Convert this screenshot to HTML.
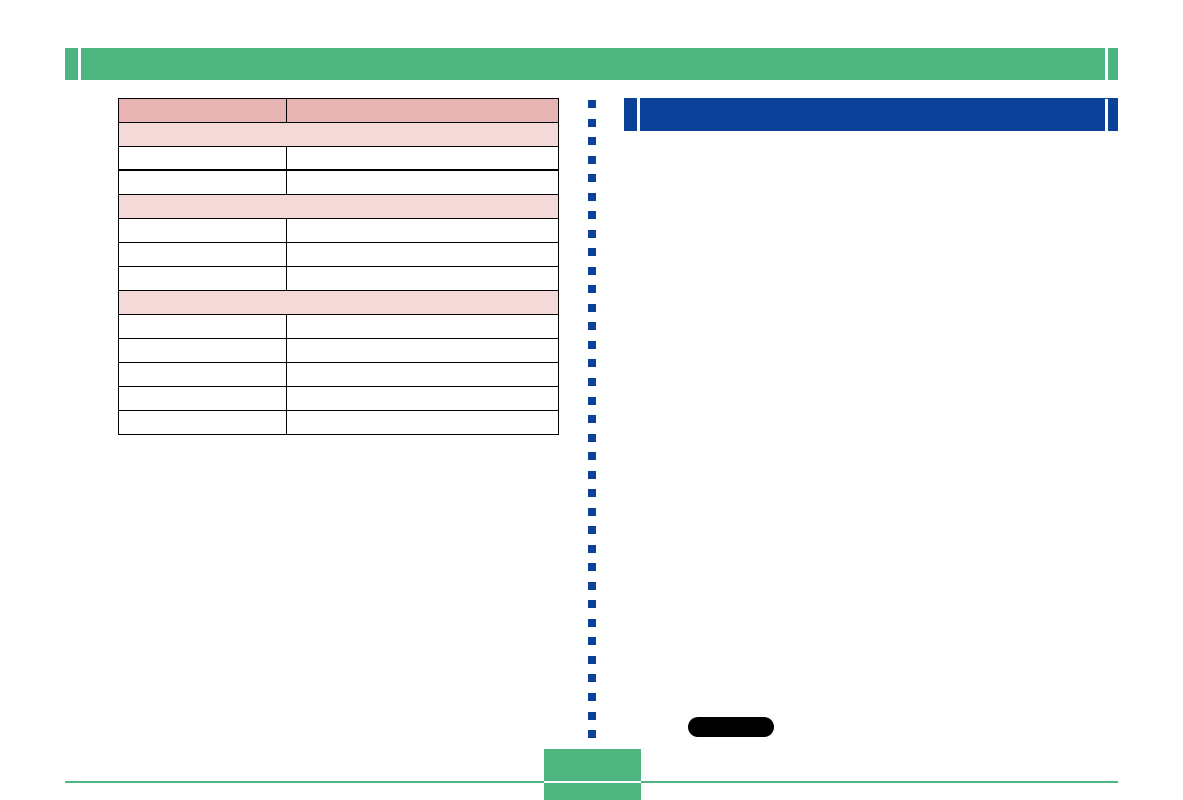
<!DOCTYPE html><html><head><style>
body{margin:0;width:1183px;height:800px;background:#fff;position:relative;overflow:hidden}
div{position:absolute}
.g{background:#4fb580}.b{background:#0b4199}
.l{left:118px;width:441px;height:1px;background:#000}
</style></head><body>
<div class="g" style="left:65px;top:48px;width:13px;height:32px"></div>
<div class="g" style="left:81px;top:48px;width:1024px;height:32px"></div>
<div class="g" style="left:1108px;top:48px;width:10px;height:32px"></div>
<div class="b" style="left:624px;top:98px;width:13px;height:33px"></div>
<div class="b" style="left:640px;top:98px;width:478px;height:33px"></div>
<div style="left:1105px;top:99px;width:3px;height:32px;background:#fff"></div>
<div id="tbl"></div>
<div id="dots"></div>
<script>
var t='';
var types=['h','s','r','r','s','r','r','r','s','r','r','r','r','r'];
for(var i=0;i<14;i++){var y=98+24*i;
 if(types[i]=='h')t+='<div style="left:118px;top:'+y+'px;width:441px;height:24px;background:#e8b3b3"></div>';
 if(types[i]=='s')t+='<div style="left:118px;top:'+y+'px;width:441px;height:24px;background:#f4d9d9"></div>';
 if(types[i]!='s')t+='<div style="left:286px;top:'+y+'px;width:1px;height:24px;background:#000"></div>';
}
for(var i=0;i<=14;i++){var y=98+24*i;t+='<div class="l" style="top:'+(i==3?y-1:y)+'px;height:'+(i==3?2:1)+'px"></div>';}
t+='<div style="left:118px;top:98px;width:1px;height:337px;background:#000"></div>';
t+='<div style="left:558px;top:98px;width:1px;height:337px;background:#000"></div>';
document.getElementById('tbl').outerHTML=t;
var h='';for(var i=0;i<35;i++){h+='<div class="b" style="left:588px;top:'+(100+i*18.53).toFixed(1)+'px;width:8px;height:8px"></div>';}
document.getElementById('dots').outerHTML=h;
</script>
<div style="left:688px;top:717px;width:86px;height:20px;border-radius:10px;background:#000"></div>
<div class="g" style="left:544px;top:749px;width:97px;height:51px"></div>
<div style="left:544px;top:781px;width:97px;height:2px;background:#fff"></div>
<div class="g" style="left:65px;top:781px;width:479px;height:2px"></div>
<div class="g" style="left:641px;top:781px;width:477px;height:2px"></div>
</body></html>
